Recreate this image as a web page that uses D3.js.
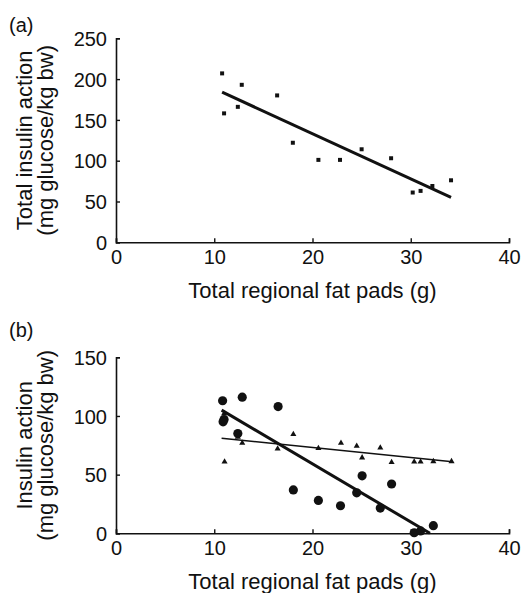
<!DOCTYPE html>
<meta charset="utf-8">
<title>Insulin action vs regional fat pads</title>
<style>
body { margin: 0; background: #fff; }
text { font-family: "Liberation Sans", Arial, sans-serif; fill: #111; }
</style>
<body>
<script src="https://cdn.jsdelivr.net/npm/d3@7"></script>
<script>

var width = 521,
    height = 593;

// panel (a): total insulin action
var fatA = [10.8, 11.0, 12.4, 12.8, 16.4, 18.0, 20.6, 22.8, 25.0, 28.0, 30.2, 31.0, 32.2, 34.1];
var insA = [207, 158, 166, 193, 180, 122, 101, 101, 114, 103, 61, 63, 69, 76];
var fitA = [[10.8, 184], [34.1, 55]];

// panel (b): circles and triangles
var fatCirc = [10.85, 12.85, 16.5, 11.0, 10.9, 12.4, 18.05, 20.6, 22.85, 24.5, 25.05, 26.9, 28.05, 30.35, 31.0, 32.3];
var insCirc = [113, 116, 108, 97, 95, 85, 37, 28, 23.5, 34.5, 49, 21.5, 42, 0.5, 2, 6.5];
var fatTri = [11.05, 11.0, 12.4, 12.85, 16.45, 18.05, 20.6, 22.9, 24.5, 25.05, 26.9, 28.05, 30.35, 31.0, 32.3, 34.15];
var insTri = [61, 102, 82, 77, 72, 84.5, 72.5, 77, 74.5, 64.5, 73, 60.5, 61, 61, 61.3, 61.3];
var fitCirc = [[10.75, 105], [31.95, 0]];
var fitTri = [[10.75, 81], [34.25, 61]];

var xTicks = [0, 10, 20, 30, 40];
var yTicksA = [0, 50, 100, 150, 200, 250];
var yTicksB = [0, 50, 100, 150];

var svg = d3.select("body").append("svg")
    .attr("width", width)
    .attr("height", height);

function drawPanel(p) {
  var x = d3.scaleLinear().domain([0, 40]).range([116, 509]);
  var y = d3.scaleLinear().domain([0, p.ymax]).range([p.bottom, p.top]);

  var g = svg.append("g");

  // axes
  var xAxis = d3.axisBottom(x).tickValues(xTicks).tickSize(-4).tickPadding(8).tickFormat(d3.format("d"));
  var yAxis = d3.axisLeft(y).tickValues(p.yTicks).tickSize(-4).tickPadding(9).tickFormat(d3.format("d"));

  var gx = g.append("g").attr("transform", "translate(0," + p.bottom + ")").call(xAxis);
  var gy = g.append("g").attr("transform", "translate(116,0)").call(yAxis);

  [gx, gy].forEach(function(a) {
    a.select(".domain").attr("stroke", "#111").attr("stroke-width", 1.6);
    a.selectAll(".tick line").attr("stroke", "#111").attr("stroke-width", 1.4);
    a.selectAll(".tick text").style("font-size", "20px").attr("fill", "#111")
      .style("font-family", "'Liberation Sans', Arial, sans-serif");
  });
  gx.selectAll(".tick text").attr("dy", null).attr("y", 22);
  gy.selectAll(".tick text").attr("dy", "0.36em");

  // panel label
  g.append("text").attr("x", 9).attr("y", p.labelY)
    .style("font-size", "20px").text(p.label);

  // y title, two lines
  var cy = (p.top + p.bottom) / 2;
  p.ytitle.forEach(function(t, i) {
    g.append("text")
      .attr("transform", "translate(" + (32 + i * 21) + "," + cy + ") rotate(-90)")
      .attr("text-anchor", "middle")
      .style("font-size", "22px")
      .text(t);
  });

  // x title
  g.append("text").attr("x", x(20)).attr("y", p.bottom + 56)
    .attr("text-anchor", "middle")
    .style("font-size", "22px")
    .text("Total regional fat pads (g)");

  var line = d3.line().x(function(d) { return x(d[0]); }).y(function(d) { return y(d[1]); });

  p.lines.forEach(function(l) {
    g.append("path").datum(l.pts).attr("d", line)
      .attr("fill", "none").attr("stroke", "#111").attr("stroke-width", l.w);
  });

  p.series.forEach(function(s) {
    var pts = s.xs.map(function(v, i) { return [v, s.ys[i]]; });
    g.selectAll(null).data(pts).enter().append("path")
      .attr("transform", function(d) { return "translate(" + x(d[0]) + "," + y(d[1]) + ")"; })
      .attr("d", d3.symbol().type(s.type).size(s.size))
      .attr("fill", "#111");
  });
}

drawPanel({
  label: "(a)", labelY: 32,
  top: 38.3, bottom: 242.3, ymax: 250, yTicks: yTicksA,
  ytitle: ["Total insulin action", "(mg glucose/kg bw)"],
  lines: [{pts: fitA, w: 3}],
  series: [{xs: fatA, ys: insA, type: d3.symbolSquare, size: 16}]
});

drawPanel({
  label: "(b)", labelY: 337,
  top: 357.3, bottom: 533.3, ymax: 150, yTicks: yTicksB,
  ytitle: ["Insulin action", "(mg glucose/kg bw)"],
  lines: [{pts: fitTri, w: 1.6}, {pts: fitCirc, w: 3}],
  series: [
    {xs: fatTri, ys: insTri, type: d3.symbolTriangle, size: 16},
    {xs: fatCirc, ys: insCirc, type: d3.symbolCircle, size: 66}
  ]
});

</script>
